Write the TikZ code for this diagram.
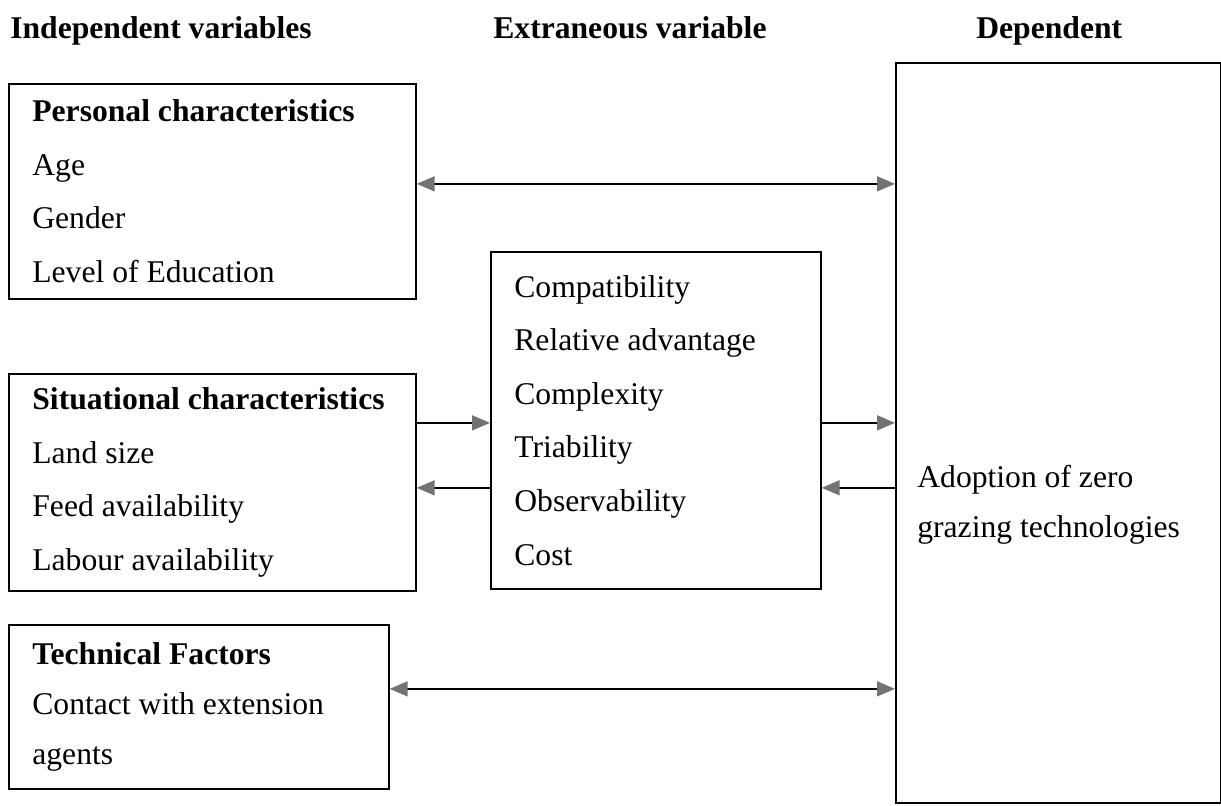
\documentclass[tikz,border=0pt]{standalone}
\usepackage{fontspec}
\setmainfont{Liberation Serif}
\usetikzlibrary{arrows.meta}

\tikzset{
  factorbox/.style={draw, line width=1pt, anchor=north west, align=flush left,
    inner xsep=0.47cm, inner ysep=0pt, font=\fontsize{18}{30.5}\selectfont},
  heading/.style={anchor=base west, inner sep=0pt, font=\fontsize{18}{21}\selectfont\bfseries},
  tip/.tip={Triangle[length=0.36cm,width=0.3cm,color=black!55]},
  flow/.style={line width=0.9pt, -tip},
  twoway/.style={line width=0.9pt, tip-tip},
}

\begin{document}
\begin{tikzpicture}[x=0.02cm,y=-0.02cm]
   \useasboundingbox (0,0) rectangle (1221,805);
   % column headings
   \node[heading] (hind) at (10,38) {Independent variables};
   \node[heading] (hext) at (493,38) {Extraneous variable};
   \node[heading] (hdep) at (976,38) {Dependent};
   % independent variables
   \node[factorbox, text width=7.2cm, minimum height=4.3cm] (pers) at (8,83)
     {\textbf{Personal characteristics}\\Age\\Gender\\Level of Education};
   \node[factorbox, text width=7.2cm, minimum height=4.34cm] (sit) at (8,373)
     {\textbf{Situational characteristics}\\Land size\\Feed availability\\Labour availability};
   \node[factorbox, text width=6.66cm, minimum height=3.28cm,
     font=\fontsize{18}{28.4}\selectfont] (tech) at (8,624)
     {\textbf{Technical Factors}\\Contact with extension\\agents};
   % extraneous variable
   \node[factorbox, text width=5.66cm, minimum height=6.74cm] (ext) at (490,251)
     {Compatibility\\Relative advantage\\Complexity\\Triability\\Observability\\Cost};
   % dependent variable
   \node[factorbox, minimum width=6.5cm, minimum height=14.8cm] (dep) at (895,62) {};
   \node[anchor=west, inner sep=0pt, align=flush left,
     font=\fontsize{18}{28.4}\selectfont] (adopt) at (917,505)
     {Adoption of zero\\grazing technologies};
   % links
   \draw[twoway] ([yshift=0.15cm]pers.east) coordinate (p1) -- (p1 -| dep.west);
   \draw[flow] ([yshift=1.19cm]sit.east) coordinate (s1) -- (s1 -| ext.west);
   \draw[flow] ([yshift=-0.11cm]sit.east -| ext.west) coordinate (s2) -- (s2 -| sit.east);
   \draw[flow] ([yshift=-0.05cm]ext.east) coordinate (e1) -- (e1 -| dep.west);
   \draw[flow] ([yshift=-1.35cm]ext.east -| dep.west) coordinate (e2) -- (e2 -| ext.east);
   \draw[twoway] ([yshift=0.36cm]tech.east) coordinate (t1) -- (t1 -| dep.west);
\end{tikzpicture}
\end{document}
